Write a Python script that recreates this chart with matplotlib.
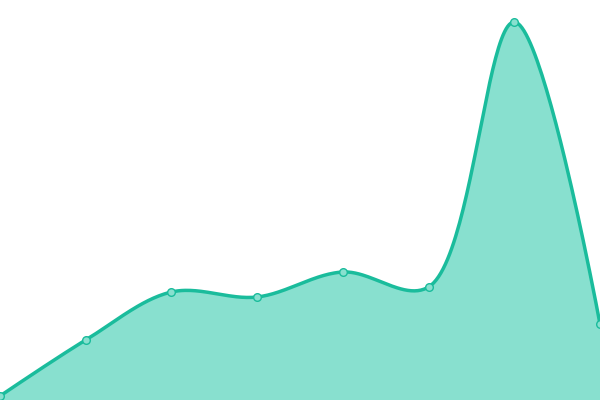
import numpy as np
import matplotlib
matplotlib.use("Agg")
import matplotlib.pyplot as plt

categories = list(range(8))
values = [4, 60, 108, 103, 128, 113, 378, 76]

LINE = "#1abc9c"
FILL = "#88e0cf"

W, H = 600, 400
XMAX, YMAX = 7, 400


def catmull_rom_centripetal(xs, ys, alpha=0.5, n=50):
    # work in pixel space (as a d3 curveCatmullRom would)
    P = np.column_stack([np.asarray(xs, float) * W / XMAX,
                         np.asarray(ys, float) * H / YMAX])
    eps = 1e-12
    out = [P[0]]
    m = len(P)
    for i in range(m - 1):
        p1, p2 = P[i], P[i + 1]
        p0 = P[i - 1] if i > 0 else None
        p3 = P[i + 2] if i + 2 < m else None
        l12 = np.linalg.norm(p2 - p1)
        l12_a, l12_2a = l12 ** alpha, l12 ** (2 * alpha)
        c1 = p1.copy()
        c2 = p2.copy()
        if p0 is not None:
            l01 = np.linalg.norm(p1 - p0)
            l01_a, l01_2a = l01 ** alpha, l01 ** (2 * alpha)
            if l01_a > eps:
                a = 2 * l01_2a + 3 * l01_a * l12_a + l12_2a
                nn = 3 * l01_a * (l01_a + l12_a)
                c1 = (p1 * a - p0 * l12_2a + p2 * l01_2a) / nn
        if p3 is not None:
            l23 = np.linalg.norm(p3 - p2)
            l23_a, l23_2a = l23 ** alpha, l23 ** (2 * alpha)
            if l23_a > eps:
                b = 2 * l23_2a + 3 * l23_a * l12_a + l12_2a
                mm = 3 * l23_a * (l23_a + l12_a)
                c2 = (p2 * b + p1 * l23_2a - p3 * l12_2a) / mm
        t = np.linspace(0, 1, n)[1:, None]
        pts = ((1 - t) ** 3) * p1 + 3 * ((1 - t) ** 2) * t * c1 + 3 * (1 - t) * t ** 2 * c2 + t ** 3 * p2
        out.extend(pts)
    out = np.array(out)
    return out[:, 0] * XMAX / W, out[:, 1] * YMAX / H


fig = plt.figure(figsize=(6, 4), dpi=100)
ax = fig.add_axes([0, 0, 1, 1])
sx, sy = catmull_rom_centripetal(categories, values)
ax.fill_between(sx, 0, sy, color=FILL, linewidth=0)
ax.plot(sx, sy, color=LINE, linewidth=2.5, solid_capstyle="round")
ax.plot(categories, values, "o", markersize=5.5, markerfacecolor=FILL,
        markeredgecolor=LINE, markeredgewidth=1.0, clip_on=False)
ax.set_xlim(0, XMAX)
ax.set_ylim(0, YMAX)
ax.axis("off")
fig.savefig("out.png", dpi=100)
